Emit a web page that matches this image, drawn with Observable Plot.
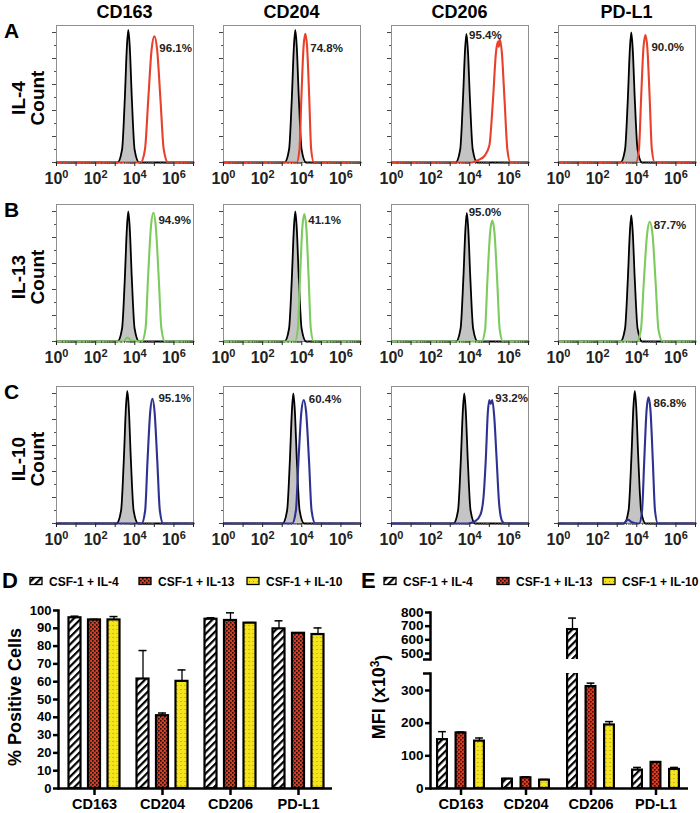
<!DOCTYPE html>
<html><head><meta charset="utf-8">
<script src="https://cdn.jsdelivr.net/npm/d3@7"></script>
<script src="https://cdn.jsdelivr.net/npm/@observablehq/plot@0.6"></script>
<style>
html,body{margin:0;padding:0;background:#fff;}
#fig{position:relative;width:700px;height:813px;overflow:hidden;background:#fff;}
#fig svg{position:absolute;max-width:none;background:transparent;}
</style></head><body><div id="fig"></div>
<script>
// ---------------- DATA ----------------
const markers = ["CD163", "CD204", "CD206", "PD-L1"];
const cytokines = ["IL-4", "IL-13", "IL-10"];
const rowLetters = ["A", "B", "C"];
const groups = ["CSF-1 + IL-4", "CSF-1 + IL-13", "CSF-1 + IL-10"];
const histTicks = [0, 1, 2, 3, 4, 5, 6, 7];
const histLabelled = [0, 2, 4, 6];
const countTicks = [0, 0.2, 0.4, 0.6, 0.8, 1.0];
const pctTicks = [0, 10, 20, 30, 40, 50, 60, 70, 80, 90, 100];
const mfiTicksLow = [0, 100, 200, 300];
const mfiTicksHigh = [500, 600, 700, 800];

// percent positive labels on the histograms
const pctLabels = [
  ["96.1%", "74.8%", "95.4%", "90.0%"],
  ["94.9%", "41.1%", "95.0%", "87.7%"],
  ["95.1%", "60.4%", "93.2%", "86.8%"]
];

// histogram curves: [log10 intensity, relative count]; isotype (black, filled) and stained
const isoIL4 = [
  [[0,0],[3.12,0],[3.35,0.1],[3.49,0.49],[3.6,0.9],[3.67,1.02],[3.74,0.9],[3.85,0.49],[3.99,0.1],[4.22,0],[7,0]],
  [[0,0],[3.12,0],[3.35,0.1],[3.49,0.49],[3.6,0.9],[3.67,1.02],[3.74,0.9],[3.85,0.49],[3.99,0.1],[4.22,0],[7,0]],
  [[0,0],[3.28,0],[3.51,0.1],[3.65,0.48],[3.76,0.87],[3.83,0.99],[3.9,0.87],[4.01,0.48],[4.15,0.1],[4.38,0],[7,0]],
  [[0,0],[3.17,0],[3.4,0.1],[3.54,0.48],[3.65,0.88],[3.72,1.0],[3.79,0.88],[3.9,0.48],[4.04,0.1],[4.27,0],[7,0]]
];
const stainIL4 = [
  [[0,0],[4.3,0],[4.52,0.1],[4.69,0.49],[4.86,0.87],[5.0,0.97],[5.14,0.87],[5.31,0.49],[5.48,0.1],[5.7,0],[7,0]],
  [[0,0],[3.74,0],[3.88,0.1],[3.98,0.5],[4.09,0.89],[4.18,0.99],[4.27,0.89],[4.38,0.5],[4.48,0.1],[4.62,0],[7,0]],
  [[0,0],[4.1,0],[4.45,0.02],[4.75,0.05],[5.0,0.13],[5.18,0.47],[5.34,0.85],[5.44,0.93],[5.48,0.89],[5.53,0.95],[5.63,0.86],[5.78,0.47],[5.92,0.1],[6.08,0],[7,0]],
  [[0,0],[3.96,0],[4.11,0.1],[4.22,0.49],[4.34,0.88],[4.44,0.98],[4.54,0.88],[4.66,0.49],[4.77,0.1],[4.92,0],[7,0]]
];
const isoIL13 = [
  [[0,0],[3.12,0],[3.35,0.1],[3.49,0.48],[3.6,0.88],[3.67,1.0],[3.74,0.88],[3.85,0.48],[3.99,0.1],[4.22,0],[7,0]],
  [[0,0],[3.12,0],[3.35,0.1],[3.49,0.48],[3.6,0.88],[3.67,1.0],[3.74,0.88],[3.85,0.48],[3.99,0.1],[4.22,0],[7,0]],
  [[0,0],[3.3,0],[3.53,0.1],[3.67,0.48],[3.78,0.87],[3.85,0.99],[3.92,0.87],[4.03,0.48],[4.17,0.1],[4.4,0],[7,0]],
  [[0,0],[3.17,0],[3.4,0.1],[3.54,0.47],[3.65,0.85],[3.72,0.97],[3.79,0.85],[3.9,0.47],[4.04,0.1],[4.27,0],[7,0]]
];
const stainIL13 = [
  [[0,0],[3.4,0],[3.62,0.03],[3.85,0.005],[4.36,0],[4.55,0.1],[4.68,0.5],[4.83,0.89],[4.95,0.99],[5.07,0.89],[5.22,0.5],[5.36,0.1],[5.54,0],[7,0]],
  [[0,0],[3.65,0],[3.8,0.1],[3.91,0.49],[4.03,0.88],[4.13,0.98],[4.23,0.88],[4.35,0.49],[4.46,0.1],[4.61,0],[7,0]],
  [[0,0],[4.6,0],[4.78,0.09],[4.9,0.47],[5.04,0.84],[5.15,0.93],[5.26,0.84],[5.4,0.47],[5.53,0.09],[5.7,0],[7,0]],
  [[0,0],[4.0,0],[4.21,0.09],[4.36,0.46],[4.53,0.83],[4.66,0.92],[4.8,0.83],[4.96,0.46],[5.11,0.09],[5.32,0],[7,0]]
];
const isoIL10 = [
  [[0,0],[3.07,0],[3.3,0.1],[3.44,0.49],[3.55,0.9],[3.62,1.02],[3.69,0.9],[3.8,0.49],[3.94,0.1],[4.17,0],[7,0]],
  [[0,0],[3.02,0],[3.25,0.1],[3.39,0.48],[3.5,0.88],[3.57,1.0],[3.64,0.88],[3.75,0.48],[3.89,0.1],[4.12,0],[7,0]],
  [[0,0],[3.17,0],[3.4,0.1],[3.54,0.48],[3.65,0.88],[3.72,1.0],[3.79,0.88],[3.9,0.48],[4.04,0.1],[4.27,0],[7,0]],
  [[0,0],[3.35,0],[3.58,0.1],[3.72,0.49],[3.83,0.9],[3.9,1.02],[3.97,0.9],[4.08,0.49],[4.22,0.1],[4.45,0],[7,0]]
];
const stainIL10 = [
  [[0,0],[4.35,0],[4.53,0.1],[4.65,0.48],[4.79,0.86],[4.9,0.96],[5.01,0.86],[5.15,0.48],[5.28,0.1],[5.45,0],[7,0]],
  [[0,0],[3.51,0],[3.7,0.1],[3.83,0.48],[3.98,0.86],[4.1,0.95],[4.22,0.86],[4.37,0.48],[4.5,0.1],[4.69,0],[7,0]],
  [[0,0],[3.9,0],[4.3,0.02],[4.55,0.07],[4.7,0.2],[4.82,0.5],[4.92,0.85],[5.0,0.95],[5.07,0.92],[5.15,0.95],[5.25,0.82],[5.37,0.5],[5.5,0.15],[5.65,0.02],[5.8,0],[7,0]],
  [[0,0],[3.3,0],[3.55,0.03],[3.75,0.01],[4.12,0],[4.27,0.1],[4.38,0.48],[4.5,0.87],[4.6,0.97],[4.7,0.87],[4.82,0.48],[4.93,0.1],[5.08,0],[7,0]]
];

// Panel D: % positive cells (mean and error)
const pctIL4 = [95.9, 61.5, 95.1, 89.7];
const pctIL4Err = [0.9, 16.0, 0.8, 4.5];
const pctIL13 = [94.7, 40.9, 94.4, 87.2];
const pctIL13Err = [0.3, 1.5, 4.3, 0.2];
const pctIL10 = [94.7, 60.2, 92.9, 86.5];
const pctIL10Err = [1.9, 6.4, 0.3, 3.7];

// Panel E: MFI (x10^3) (mean and error)
const mfiIL4 = [149.5, 28.7, 675, 56.3];
const mfiIL4Err = [24.5, 2.0, 84, 8.2];
const mfiIL13 = [170, 32.8, 312, 79.9];
const mfiIL13Err = [3.0, 3.0, 10.5, 2.1];
const mfiIL10 = [145, 25.6, 194.5, 58.4];
const mfiIL10Err = [9.6, 2.0, 10.3, 6.1];

// ---------------- LAYOUT / STYLE ----------------
const NS = "http://www.w3.org/2000/svg";
const FONT = "'Liberation Sans', Arial, Helvetica, sans-serif";
const fig = document.getElementById("fig");
const BOX = 137;
const colLefts = [56, 223, 391, 558];
const rowTops = [25, 204, 386];
const stainColors = ["#e8402a", "#7dcb5d", "#2e3192"];
const patterns = ["url(#pHatch)", "url(#pCheck)", "url(#pDots)"];
// percent label offset from the stained peak (px) and anchor
const labelLayout = [
  [[5, 12, "start"], [5, 14, "start"], [2, -4, "end"], [6, 12, "start"]],
  [[5, 7, "start"], [4, 6, "start"], [9, -8, "end"], [4, 3, "start"]],
  [[6, 0, "start"], [5, -1, "start"], [6, -2, "start"], [5, 6, "start"]]
];

function place(svg, left, top) {
  svg.style.left = left + "px";
  svg.style.top = top + "px";
  fig.appendChild(svg);
}
function fixSuperscripts(svg) {
  svg.querySelectorAll("text").forEach(t => {
    const m = /^10\^(\d+)$/.exec(t.textContent);
    if (m) {
      t.textContent = "10";
      const ts = document.createElementNS(NS, "tspan");
      ts.setAttribute("dy", "-0.5em");
      ts.setAttribute("font-size", "11");
      ts.textContent = m[1];
      t.appendChild(ts);
    }
  });
}

// overlay with defs and text
const ov = d3.create("svg").attr("width", 700).attr("height", 813)
  .style("left", "0px").style("top", "0px")
  .attr("font-family", FONT).attr("font-weight", "bold");
const defs = ov.append("defs");
const ph = defs.append("pattern").attr("id", "pHatch").attr("patternUnits", "userSpaceOnUse")
  .attr("width", 5.2).attr("height", 5.2).attr("patternTransform", "rotate(45)");
ph.append("rect").attr("width", 5.2).attr("height", 5.2).attr("fill", "#fff");
ph.append("rect").attr("width", 2.2).attr("height", 5.2).attr("fill", "#000");
const pc = defs.append("pattern").attr("id", "pCheck").attr("patternUnits", "userSpaceOnUse")
  .attr("width", 4).attr("height", 4);
pc.append("rect").attr("width", 4).attr("height", 4).attr("fill", "#e3371c");
pc.append("rect").attr("x", 0).attr("y", 0).attr("width", 1.6).attr("height", 1.6).attr("fill", "#1a1010");
pc.append("rect").attr("x", 2).attr("y", 2).attr("width", 1.6).attr("height", 1.6).attr("fill", "#1a1010");
const pd = defs.append("pattern").attr("id", "pDots").attr("patternUnits", "userSpaceOnUse")
  .attr("width", 4).attr("height", 4);
pd.append("rect").attr("width", 4).attr("height", 4).attr("fill", "#f5e31c");
pd.append("rect").attr("x", 1).attr("y", 1).attr("width", 0.9).attr("height", 0.9).attr("fill", "#8a7d12");
fig.appendChild(ov.node());

// ---------------- HISTOGRAMS ----------------
const isoCurves = [isoIL4, isoIL13, isoIL10];
const stainCurves = [stainIL4, stainIL13, stainIL10];
const minorTicks = [];
for (let k = 0; k < 7; k++) for (let m = 2; m <= 9; m++) minorTicks.push(k + Math.log10(m));
const ML = 12, MR = 18, MT = 2, MB = 32;
rowTops.forEach((top, r) => colLefts.forEach((left, c) => {
  const iso = isoCurves[r][c], stain = stainCurves[r][c];
  const peak = d3.greatest(stain, d => d[1]);
  const [ldx, ldy, lanchor] = labelLayout[r][c];
  const svg = Plot.plot({
    width: ML + BOX + MR, height: MT + BOX + MB,
    marginLeft: ML, marginRight: MR, marginTop: MT, marginBottom: MB,
    x: {domain: [0, 7]},
    y: {domain: [0, 1.054]},
    style: {fontFamily: FONT, fontSize: "16px", fontWeight: "bold", color: "#111", background: "transparent", overflow: "visible"},
    marks: [
      Plot.frame({stroke: "#8f8f8f", strokeWidth: 1}),
      Plot.areaY(iso, {x: d => d[0], y: d => d[1], curve: "monotone-x", fill: "#c4c4c4"}),
      Plot.lineY(iso, {x: d => d[0], y: d => d[1], curve: "monotone-x", stroke: "#000", strokeWidth: 1.8}),
      Plot.lineY(stain, {x: d => d[0], y: d => d[1], curve: "monotone-x", stroke: stainColors[r], strokeWidth: 2.1}),
      Plot.axisX({ticks: minorTicks, tickSize: 2, tickFormat: () => "", color: "#555", label: null}),
      Plot.axisX({ticks: histTicks, tickSize: 4, tickPadding: 6, color: "#222", label: null, fontSize: 16,
        tickFormat: d => histLabelled.includes(d) ? "10^" + d : ""}),
      Plot.axisY({ticks: [0.1, 0.3, 0.5, 0.7, 0.9], tickSize: 2, tickFormat: () => "", color: "#555", label: null}),
      Plot.axisY({ticks: countTicks, tickSize: 4, tickFormat: () => "", color: "#444", label: null}),
      Plot.text([peak], {x: d => d[0], y: d => d[1], text: () => pctLabels[r][c], textAnchor: lanchor,
        dx: ldx, dy: ldy, fontSize: 11.5, fontWeight: "bold", fill: "#222"})
    ]
  });
  fixSuperscripts(svg);
  place(svg, left - ML, top - MT);
}));

// titles, row letters and row labels
markers.forEach((m, i) => ov.append("text").attr("x", colLefts[i] + BOX / 2).attr("y", 18)
  .attr("text-anchor", "middle").attr("font-size", 18).text(m));
rowTops.forEach((top, r) => {
  ov.append("text").attr("x", 4).attr("y", top + 13).attr("font-size", 21).text(rowLetters[r]);
  ov.append("text").attr("transform", `translate(18,${top + 73}) rotate(-90)`).attr("dy", "0.35em")
    .attr("text-anchor", "middle").attr("font-size", 19).text(cytokines[r]);
  ov.append("text").attr("transform", `translate(37,${top + 73}) rotate(-90)`).attr("dy", "0.35em")
    .attr("text-anchor", "middle").attr("font-size", 19).text("Count");
});

// ---------------- BAR TABLES ----------------
const pctMeans = [pctIL4, pctIL13, pctIL10], pctErrs = [pctIL4Err, pctIL13Err, pctIL10Err];
const mfiMeans = [mfiIL4, mfiIL13, mfiIL10], mfiErrs = [mfiIL4Err, mfiIL13Err, mfiIL10Err];
const pctRows = groups.map((g, gi) => markers.map((m, mi) => ({marker: m, group: g, value: pctMeans[gi][mi], err: pctErrs[gi][mi]})));
const mfiRows = groups.map((g, gi) => markers.map((m, mi) => ({marker: m, group: g, value: mfiMeans[gi][mi], err: mfiErrs[gi][mi]})));

function barMarks(rows, step, barInset, capInset, clip) {
  const out = [];
  rows.forEach((data, gi) => {
    const dx = (gi - 1) * step;
    out.push(Plot.ruleX(data, {x: "marker", y1: "value", y2: d => d.value + d.err, dx, stroke: "#000", strokeWidth: 1.3, clip}));
    out.push(Plot.tickY(data, {x: "marker", y: d => d.value + d.err, dx, insetLeft: capInset, insetRight: capInset, stroke: "#000", strokeWidth: 1.5, clip}));
    out.push(Plot.barY(data, {x: "marker", y: "value", dx, insetLeft: barInset, insetRight: barInset, fill: patterns[gi], stroke: "#000", strokeWidth: 2.2, clip}));
  });
  return out;
}
const barStyle = {fontFamily: FONT, fontWeight: "bold", fontSize: "13px", color: "#000", background: "transparent", overflow: "visible"};

// Panel D
const Dsvg = Plot.plot({
  width: 345, height: 213, marginLeft: 58, marginRight: 13, marginTop: 10, marginBottom: 25,
  x: {domain: markers, range: [60, 332], padding: 0, label: null},
  y: {domain: [0, 100], label: null},
  style: barStyle,
  marks: [
    ...barMarks(pctRows, 19.5, 28, 30, false),
    Plot.ruleY([0], {strokeWidth: 2.5}),
    Plot.frame({anchor: "left", strokeWidth: 2.5}),
    Plot.axisY({ticks: pctTicks, tickSize: 5, tickPadding: 2, strokeWidth: 2.5, fontSize: 13, label: null}),
    Plot.axisX({tickSize: 7, tickPadding: 3, strokeWidth: 2.5, fontSize: 14.5, label: null})
  ]
});
place(Dsvg, 0, 600);

// Panel E (broken axis: upper and lower segments)
const Eup = Plot.plot({
  width: 350, height: 57, marginLeft: 80, marginRight: 12, marginTop: 8, marginBottom: 2,
  x: {domain: markers, range: [77, 338], padding: 0, axis: null, label: null},
  y: {domain: [456, 800], label: null},
  style: barStyle,
  marks: [
    ...barMarks(mfiRows, 18.5, 27.6, 28.6, true),
    Plot.frame({anchor: "left", strokeWidth: 2.5}),
    Plot.axisY({ticks: mfiTicksHigh, tickSize: 5, tickPadding: 2, strokeWidth: 2.5, fontSize: 13.5, label: null}),
    Plot.axisY({ticks: [456], tickSize: 7, tickFormat: () => "", strokeWidth: 2.5, label: null})
  ]
});
place(Eup, 350, 604);
const Elow = Plot.plot({
  width: 350, height: 153, marginLeft: 80, marginRight: 12, marginTop: 8, marginBottom: 30,
  x: {domain: markers, range: [77, 338], padding: 0, label: null},
  y: {domain: [0, 352], label: null},
  style: barStyle,
  marks: [
    ...barMarks(mfiRows, 18.5, 27.6, 28.6, true),
    Plot.ruleY([0], {strokeWidth: 2.5}),
    Plot.frame({anchor: "left", strokeWidth: 2.5}),
    Plot.axisY({ticks: mfiTicksLow, tickSize: 5, tickPadding: 2, strokeWidth: 2.5, fontSize: 13.5, label: null}),
    Plot.axisY({ticks: [352], tickSize: 7, tickFormat: () => "", strokeWidth: 2.5, label: null}),
    Plot.axisX({tickSize: 7, tickPadding: 3, strokeWidth: 2.5, fontSize: 14.5, label: null})
  ]
});
place(Elow, 350, 665);

// legends, panel letters, axis titles
function legend(letterX, letter, swatchXs) {
  ov.append("text").attr("x", letterX).attr("y", 588).attr("font-size", 22).text(letter);
  groups.forEach((g, i) => {
    ov.append("rect").attr("x", swatchXs[i]).attr("y", 577.5).attr("width", 12).attr("height", 7)
      .attr("fill", patterns[i]).attr("stroke", "#000").attr("stroke-width", 1.3);
    ov.append("text").attr("x", swatchXs[i] + 19).attr("y", 585.5).attr("font-size", 12).text(g);
  });
}
legend(2, "D", [30, 139, 247]);
legend(361, "E", [384, 497, 603]);
ov.append("text").attr("transform", "translate(15,697) rotate(-90)").attr("dy", "0.35em")
  .attr("text-anchor", "middle").attr("font-size", 18).text("% Positive Cells");
const et = ov.append("text").attr("transform", "translate(379,697) rotate(-90)").attr("dy", "0.35em")
  .attr("text-anchor", "middle").attr("font-size", 18);
et.append("tspan").text("MFI (x10");
et.append("tspan").attr("dy", "-0.5em").attr("font-size", 12).text("3");
et.append("tspan").attr("dy", "0.5em").text(")");
// keep overlay on top
fig.appendChild(ov.node());
</script></body></html>
